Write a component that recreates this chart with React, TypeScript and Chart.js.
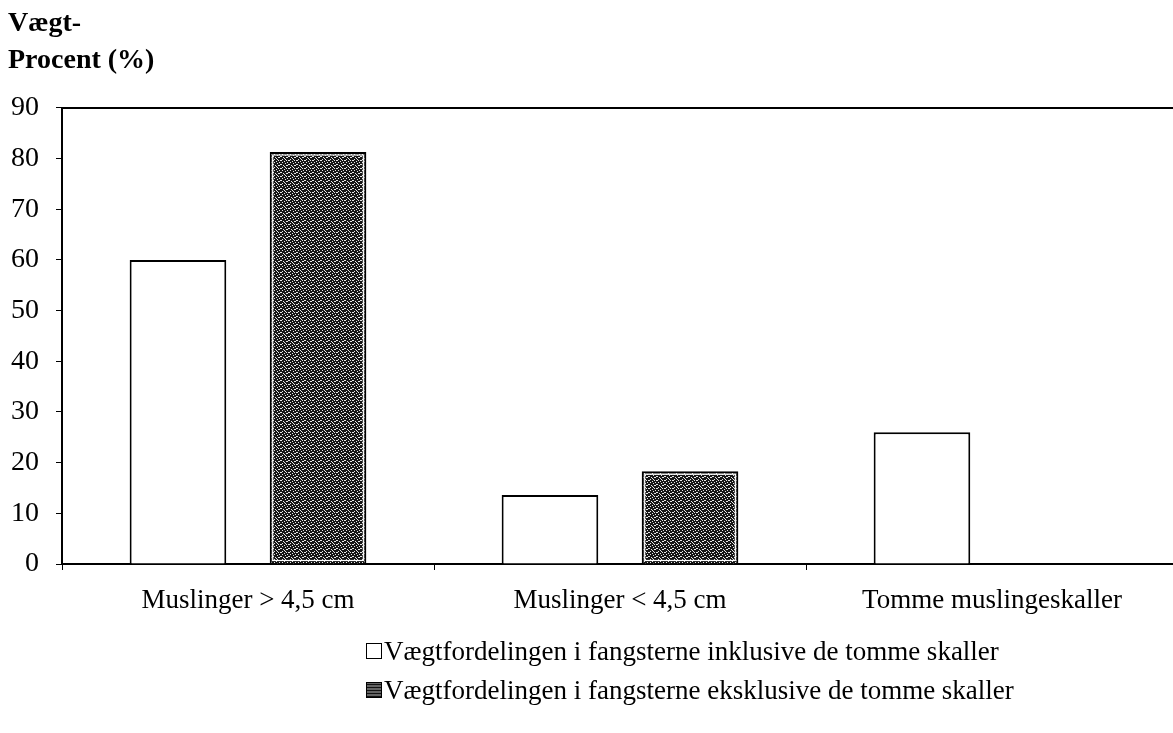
import React, { useEffect, useRef } from 'react';
import { Chart, registerables } from 'chart.js';

Chart.register(...registerables);

const categories = ['Muslinger > 4,5 cm', 'Muslinger < 4,5 cm', 'Tomme muslingeskaller'];
const inklusiveValues = [60, 13.6, 26];
const eksklusiveValues = [81.3, 18.3, null];
const yTickValues = [0, 10, 20, 30, 40, 50, 60, 70, 80, 90];
const titleLines = ['Vægt-', 'Procent (%)'];
const seriesLabels = [
  'Vægtfordelingen i fangsterne inklusive de tomme skaller',
  'Vægtfordelingen i fangsterne eksklusive de tomme skaller',
];

const FONT = '"Liberation Serif", "Times New Roman", serif';
const W = 1180;
const H = 733;

function makePattern(): CanvasPattern | string {
  const c = document.createElement('canvas');
  c.width = 8;
  c.height = 8;
  const ctx = c.getContext('2d');
  if (!ctx) return '#333';
  ctx.fillStyle = '#161616';
  ctx.fillRect(0, 0, 8, 8);
  ctx.fillStyle = '#e6e6e6';
  const dots = [
    [0, 0], [1, 0], [4, 1], [6, 0], [2, 2], [7, 2], [5, 3], [0, 4], [1, 4],
    [3, 5], [6, 5], [7, 5], [2, 7], [5, 7], [4, 6],
  ];
  dots.forEach(([x, y]) => ctx.fillRect(x, y, 1, 1));
  return ctx.createPattern(c, 'repeat') || '#333';
}

const framePlugin = {
  id: 'frame',
  afterDatasetsDraw(chart: any) {
    const { ctx, chartArea } = chart;
    ctx.save();
    const meta = chart.getDatasetMeta(1);
    ctx.strokeStyle = '#ffffff';
    ctx.lineWidth = 1.2;
    meta.data.forEach((bar: any) => {
      const p = bar.getProps(['x', 'y', 'base', 'width'], true);
      if (p.y == null || isNaN(p.y) || p.base - p.y < 8) return;
      ctx.strokeRect(p.x - p.width / 2 + 3, p.y + 3, p.width - 6, p.base - p.y - 6);
    });
    ctx.strokeStyle = '#000';
    ctx.lineWidth = 2;
    ctx.beginPath();
    ctx.moveTo(chartArea.left - 1, chartArea.top);
    ctx.lineTo(chartArea.right, chartArea.top);
    ctx.stroke();
    ctx.restore();
  },
};

export default function App() {
  const ref = useRef<HTMLCanvasElement>(null);

  useEffect(() => {
    if (!ref.current) return;
    const pattern = makePattern();
    const chart = new Chart(ref.current, {
      type: 'bar',
      data: {
        labels: categories,
        datasets: [
          {
            label: seriesLabels[0],
            data: inklusiveValues,
            backgroundColor: '#ffffff',
            borderColor: '#000000',
            borderWidth: 2,
            categoryPercentage: 0.753,
            barPercentage: 0.69,
          },
          {
            label: seriesLabels[1],
            data: eksklusiveValues,
            backgroundColor: pattern as any,
            borderColor: '#000000',
            borderWidth: 2,
            categoryPercentage: 0.753,
            barPercentage: 0.69,
          },
        ],
      },
      options: {
        responsive: false,
        animation: false,
        devicePixelRatio: 1,
        layout: { padding: { left: 8, right: 2, top: 0, bottom: 0 } },
        plugins: {
          legend: { display: false },
          tooltip: { enabled: false },
          title: {
            display: true,
            text: titleLines,
            align: 'start',
            color: '#000',
            font: { family: FONT, size: 28, weight: 'bold', lineHeight: 1.32 },
            padding: { top: 5, bottom: 29 },
          },
        },
        scales: {
          x: {
            offset: true,
            grid: {
              offset: true,
              drawOnChartArea: false,
              drawTicks: true,
              tickLength: 6,
              color: '#000',
              lineWidth: 1,
            },
            border: { display: true, color: '#000', width: 2 },
            ticks: {
              color: '#000',
              font: { family: FONT, size: 27 },
              padding: 15,
              maxRotation: 0,
            },
            afterFit: (scale: any) => {
              scale.height = H - 564;
            },
          },
          y: {
            min: 0,
            max: 90,
            afterBuildTicks: (scale: any) => {
              scale.ticks = yTickValues.map((v) => ({ value: v }));
            },
            grid: {
              drawOnChartArea: false,
              drawTicks: true,
              tickLength: 6,
              color: '#000',
              lineWidth: 1,
            },
            border: { display: true, color: '#000', width: 2 },
            ticks: {
              color: '#000',
              font: { family: FONT, size: 28 },
              padding: 17,
            },
            afterFit: (scale: any) => {
              scale.width = 54;
            },
          },
        },
      },
      plugins: [framePlugin],
    });
    return () => chart.destroy();
  }, []);

  const legendText: React.CSSProperties = {
    position: 'absolute',
    left: 384,
    fontFamily: FONT,
    fontSize: 27,
    lineHeight: '30px',
    color: '#000',
    whiteSpace: 'nowrap',
  };
  const boxBase: React.CSSProperties = {
    position: 'absolute',
    left: 366,
    width: 14,
    height: 14,
    border: '1.5px solid #000',
  };

  return (
    <div
      style={{
        position: 'absolute',
        left: 0,
        top: 0,
        width: 1173,
        height: 733,
        overflow: 'hidden',
        background: '#fff',
      }}
    >
      <canvas ref={ref} width={W} height={H} style={{ width: W, height: H, display: 'block' }} />
      <div style={{ ...boxBase, top: 643, background: '#fff' }} />
      <div style={{ ...legendText, top: 636 }}>{seriesLabels[0]}</div>
      <div
        style={{
          ...boxBase,
          top: 682,
          background:
            'repeating-linear-gradient(0deg, #222 0px, #222 1px, #bbb 1px, #bbb 3px), #888',
          backgroundBlendMode: 'multiply',
        }}
      />
      <div style={{ ...legendText, top: 675 }}>{seriesLabels[1]}</div>
    </div>
  );
}
